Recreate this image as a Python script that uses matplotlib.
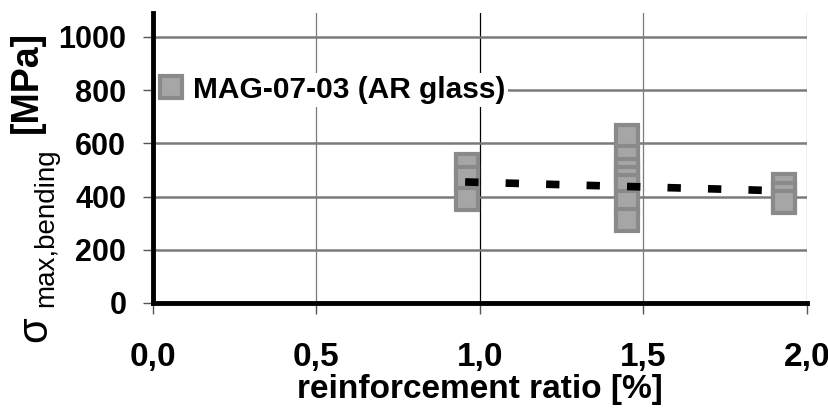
import matplotlib
matplotlib.use('Agg')
import matplotlib.pyplot as plt
from matplotlib.lines import Line2D

plt.rcParams['font.family'] = ['Liberation Sans', 'DejaVu Sans']

ratio_1 = [0.96, 0.96, 0.96]
sigma_1 = [517, 470, 390]
ratio_2 = [1.45] * 7
sigma_2 = [628, 550, 500, 470, 440, 380, 312]
ratio_3 = [1.93, 1.93, 1.93]
sigma_3 = [445, 410, 378]

# trend line
trend_x = [0.955, 1.94]
trend_y = [455, 421]

xticks = [0.0, 0.5, 1.0, 1.5, 2.0]
xticklabels = ['0,0', '0,5', '1,0', '1,5', '2,0']
yticks = [0, 200, 400, 600, 800, 1000]

series_label = 'MAG-07-03 (AR glass)'

fig = plt.figure(figsize=(8.29, 4.2), dpi=100)
ax = fig.add_axes([0.1842, 0.2786, 0.9735 - 0.1842, 0.969 - 0.2786])

ax.set_xlim(0, 2.0)
ax.set_ylim(0, 1090)
ax.set_xticks(xticks)
ax.set_xticklabels(xticklabels)
ax.set_yticks(yticks)

ax.grid(True, color='#7a7a7a', linewidth=1.2, zorder=0)
for gl in ax.xaxis.get_gridlines():
    gl.set_linewidth(0.9)
ax.xaxis.get_gridlines()[2].set_color('black')
for gl in ax.yaxis.get_gridlines():
    gl.set_linewidth(1.8)
ax.set_axisbelow(True)

for s in ['top', 'right']:
    ax.spines[s].set_visible(False)
ax.spines['left'].set_linewidth(3.5)
ax.spines['bottom'].set_linewidth(3.5)

ax.tick_params(axis='y', direction='out', length=7, width=1, color='#555555',
               pad=12, labelsize=22)
ax.tick_params(axis='x', direction='out', length=8, width=1, color='#555555',
               pad=20, labelsize=24)
for t in ax.get_xticklabels() + ax.get_yticklabels():
    t.set_fontweight('bold')

mk = dict(marker='s', markersize=15.5, markerfacecolor='#a6a6a6',
          markeredgecolor='#8a8a8a', markeredgewidth=3, linestyle='none',
          zorder=3)
ax.plot(ratio_1, sigma_1, **mk)
ax.plot(ratio_2, sigma_2, **mk)
ax.plot(ratio_3, sigma_3, **mk)

ax.plot(trend_x, trend_y, color='black', linewidth=5.5,
        linestyle=(0, (1.75, 3.55)), dash_capstyle='butt', zorder=4)

handle = Line2D([], [], **mk)
leg = ax.legend([handle], [series_label], loc='center left',
                bbox_to_anchor=(0.0, 0.735), frameon=True, fancybox=False,
                edgecolor='none', facecolor='white', framealpha=1,
                handlelength=0.85, handletextpad=0.3, borderpad=0.1,
                borderaxespad=0.1,
                prop={'size': 21.5, 'weight': 'bold'})

ax.set_xlabel('reinforcement ratio [%]', fontsize=24, fontweight='bold',
              labelpad=1)

W, H = 829.0, 420.0
fig.text(27 / W, 1 - 82 / H, '[MPa]', rotation=90, ha='center', va='center',
         fontsize=27, fontweight='bold')
fig.text(46 / W, 1 - 228 / H, 'max,bending', rotation=90, ha='center',
         va='center', fontsize=20)
fig.text(35 / W, 1 - 329 / H, '\u03c3', rotation=90, ha='center',
         va='center', fontsize=30)

fig.savefig('out.png', dpi=100)
